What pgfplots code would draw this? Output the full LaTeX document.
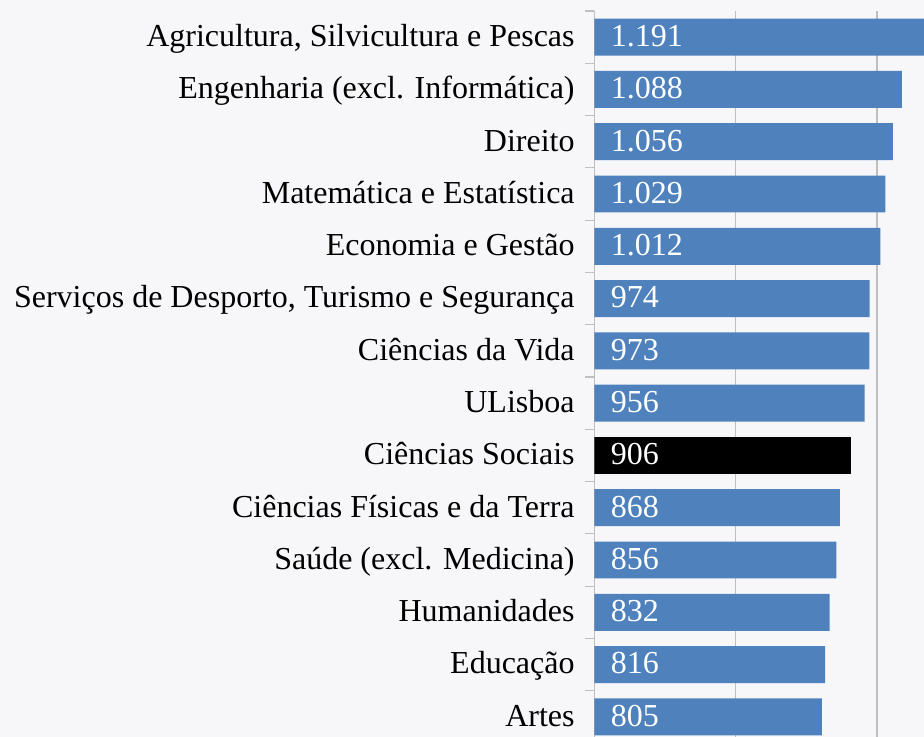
\documentclass[border=0pt]{standalone}
\usepackage{fontspec}
\setmainfont{Liberation Serif}
\usepackage{pgfplots}
\pgfplotsset{compat=1.18}
\usetikzlibrary{backgrounds}
\definecolor{barblue}{RGB}{79,129,189}
\definecolor{bg}{RGB}{247,247,249}
\definecolor{gridgray}{RGB}{191,191,191}

\begin{document}
\begin{tikzpicture}
\begin{axis}[
    name=ax,
    scale only axis,
    width=164.75pt, height=366pt,
    xmin=0, xmax=1166,
    ymin=-0.5, ymax=13.5,
    y dir=reverse,
    axis lines=left,
    x axis line style={draw=none},
    y axis line style={draw=gridgray, -},
    xtick={500,1000}, xticklabels={},
    xmajorgrids,
    major grid style={draw=gridgray, line width=0.6pt},
    ytick={0,...,13},
    yticklabels={Agricultura{,} Silvicultura e Pescas, Engenharia (excl. Informática), Direito, Matemática e Estatística, Economia e Gestão, {Serviços de Desporto, Turismo e Segurança}, Ciências da Vida, ULisboa, Ciências Sociais, Ciências Físicas e da Terra, Saúde (excl. Medicina), Humanidades, Educação, Artes},
    major tick length=0pt,
    tick style={draw=gridgray, line width=0.6pt},
    extra y ticks={-0.5,0.5,...,13.5},
    extra y tick labels={},
    extra y tick style={major tick length=4.5pt, tick align=outside, ymajorgrids=false},
    yticklabel style={font=\fontsize{16}{18}\selectfont, inner sep=0pt, anchor=base east, xshift=-9.75pt, yshift=-4.65pt},
]
\addplot[xbar, bar width=0.707, bar shift=0pt, fill=barblue, draw=none] coordinates {
  (1191,0) (1088,1) (1056,2) (1029,3) (1012,4) (974,5) (973,6) (956,7)
  (868,9) (856,10) (832,11) (816,12) (805,13)
};
\addplot[xbar, bar width=0.707, bar shift=0pt, fill=black, draw=none] coordinates {
  (906,8)
};
\addplot[draw=none, mark=none,
    nodes near coords, point meta=explicit symbolic,
    nodes near coords style={anchor=base west, text=white, inner sep=0pt, xshift=8pt, yshift=-4.65pt,
      font=\fontsize{16}{18}\selectfont}] coordinates {
  (0,0) [1.191] (0,1) [1.088] (0,2) [1.056] (0,3) [1.029] (0,4) [1.012]
  (0,5) [974] (0,6) [973] (0,7) [956] (0,8) [906] (0,9) [868]
  (0,10) [856] (0,11) [832] (0,12) [816] (0,13) [805]
};
\end{axis}
\pgfresetboundingbox
\path[use as bounding box] ([xshift=-297.25pt, yshift=5.5pt]ax.north west) rectangle ([yshift=3pt]ax.south east);
\begin{scope}[on background layer]
\fill[bg] ([xshift=-297.25pt, yshift=5.5pt]ax.north west) rectangle ([yshift=3pt]ax.south east);
\end{scope}
\end{tikzpicture}
\end{document}
